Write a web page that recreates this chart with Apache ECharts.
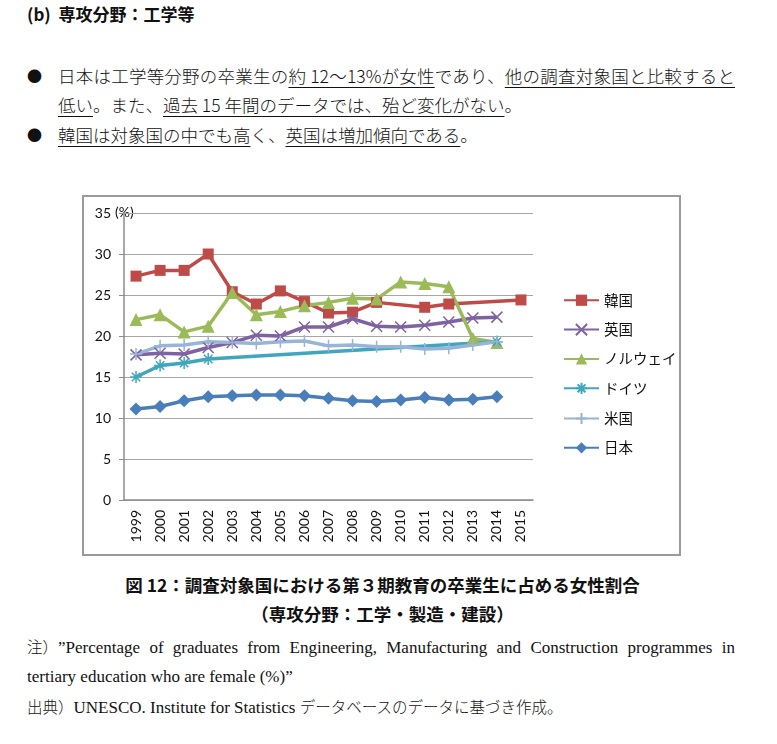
<!DOCTYPE html>
<html>
<head>
<meta charset="utf-8">
<script src="https://cdn.jsdelivr.net/npm/echarts@6/dist/echarts.min.js"></script>
<style>
  body { margin: 0; background: #fff; width: 777px; height: 744px; position: relative; overflow: hidden;
         font-family: "Noto Sans CJK JP", sans-serif; color: #111; }
  .abs { position: absolute; white-space: nowrap; }
  .head { left: 27px; top: 3px; font-size: 17px; font-weight: bold; line-height: 22px; }
  .bul { left: 27px; font-size: 15px; line-height: 20px; }
  .line { left: 58px; font-size: 17.5px; line-height: 24px; font-weight: 300; }
  .just { width: 677px; text-align: justify; text-align-last: justify; }
  u { text-decoration: underline; text-decoration-thickness: 1px; text-underline-offset: 4px; }
  .cap { left: 0; width: 765px; text-align: center; font-size: 17.5px; font-weight: bold; line-height: 24px; }
  .note { left: 27px; font-family: "Liberation Serif", "Noto Sans CJK JP", serif; font-size: 17px; line-height: 22px; }
  .note .jp { font-family: "Noto Sans CJK JP"; font-weight: 300; font-size: 15.5px; display: inline-block; }
  #chart { position: absolute; left: 82px; top: 195px; width: 600px; height: 362px; }
</style>
</head>
<body>
<div class="abs head">(b)&nbsp; 専攻分野：工学等</div>

<div class="abs bul" style="top:66px">●</div>
<div class="abs line just" style="top:64px">日本は工学等分野の卒業生の<u>約 12～13%が女性</u>であり、<u>他の調査対象国と比較すると</u></div>
<div class="abs line" style="top:93px"><u>低い</u>。また、<u>過去 15 年間のデータでは、殆ど変化がない</u>。</div>
<div class="abs bul" style="top:125px">●</div>
<div class="abs line" style="top:123px"><u>韓国は対象国の中でも高</u>く、<u>英国は増加傾向である</u>。</div>

<div id="chart"></div>

<div class="abs cap" style="top:573px">図 12：調査対象国における第３期教育の卒業生に占める女性割合</div>
<div class="abs cap" style="top:602px">（専攻分野：工学・製造・建設）</div>

<div class="abs note just" style="top:635px;width:708px"><span class="jp">注）</span>”Percentage of graduates from Engineering, Manufacturing and Construction programmes in</div>
<div class="abs note" style="top:666px">tertiary education who are female (%)”</div>
<div class="abs note" style="top:695px"><span class="jp">出典）</span>UNESCO. Institute for Statistics <span class="jp">データベースのデータに基づき作成。</span></div>

<script>
var chartDom = document.getElementById('chart');
var myChart = echarts.init(chartDom);
var option;

var years = ['1999', '2000', '2001', '2002', '2003', '2004', '2005', '2006', '2007',
             '2008', '2009', '2010', '2011', '2012', '2013', '2014', '2015'];
var yTicks = [0, 5, 10, 15, 20, 25, 30, 35];
var seriesNames = ['韓国', '英国', 'ノルウェイ', 'ドイツ', '米国', '日本'];

var korea   = [27.3, 28.0, 28.0, 30.0, 25.4, 23.9, 25.5, 24.2, 22.8, 22.9, 24.1, null, 23.5, 23.9, null, null, 24.4];
var uk      = [17.7, 17.9, 17.8, 18.6, 19.2, 20.1, 20.0, 21.1, 21.1, 22.1, 21.2, 21.1, 21.3, 21.7, 22.2, 22.3, null];
var norway  = [22.0, 22.6, 20.5, 21.2, 25.3, 22.6, 23.0, 23.7, 24.1, 24.6, 24.5, 26.6, 26.4, 26.0, 19.7, 19.2, null];
var germany = [15.0, 16.4, 16.7, 17.2, null, null, null, null, null, null, null, null, null, null, null, 19.3, null];
var us      = [17.8, 18.8, 18.9, 19.3, 19.2, 19.1, 19.3, 19.4, 18.8, 18.9, 18.7, 18.7, 18.4, 18.5, 18.9, 19.3, null];
var japan   = [11.1, 11.4, 12.1, 12.6, 12.7, 12.8, 12.8, 12.7, 12.4, 12.1, 12.0, 12.2, 12.5, 12.2, 12.3, 12.6, null];

// stroke-only marker shapes
var xMark = 'path://M0,0L10,10M10,0L0,10';
var starMark = 'path://M5,0L5,10M0,5L10,5M1.5,1.5L8.5,8.5M8.5,1.5L1.5,8.5';
var plusMark = 'path://M5,0L5,10M0,5L10,5';

function makeLine(name, data, color, symbol, size, stroked) {
  return {
    name: name,
    type: 'line',
    data: data,
    connectNulls: true,
    symbol: symbol,
    symbolSize: size,
    showAllSymbol: true,
    lineStyle: { color: color, width: 3.5 },
    itemStyle: stroked ? { color: 'none', borderColor: color, borderWidth: 1.5 } : { color: color },
    emphasis: { disabled: true }
  };
}

option = {
  animation: false,
  textStyle: { fontFamily: 'Lato, "Noto Sans CJK JP", sans-serif' },
  graphic: [
    {
      type: 'rect',
      shape: { x: 1, y: 1, width: 597, height: 359 },
      style: { fill: 'none', stroke: '#9a9a9a', lineWidth: 2 }
    },
    {
      type: 'text',
      left: 33,
      top: 10,
      style: { text: '(%)', fontSize: 14, fill: '#111', fontFamily: 'Lato, sans-serif' }
    }
  ],
  grid: { left: 42, top: 18, right: 149, bottom: 57 },
  legend: {
    orient: 'vertical',
    left: 476,
    top: 93,
    itemWidth: 35,
    itemHeight: 14,
    itemGap: 14,
    data: seriesNames,
    textStyle: { fontSize: 14.5, color: '#111', fontFamily: '"Noto Sans CJK JP", sans-serif' }
  },
  xAxis: {
    type: 'category',
    data: years,
    boundaryGap: true,
    axisLine: { lineStyle: { color: '#8c8c8c', width: 1.5 } },
    axisTick: { length: 5, lineStyle: { color: '#8c8c8c' } },
    axisLabel: { rotate: 90, margin: 10, fontSize: 14, color: '#111', interval: 0 }
  },
  yAxis: {
    type: 'value',
    min: 0,
    max: 35,
    interval: 5,
    axisLine: { show: true, lineStyle: { color: '#8c8c8c', width: 1.5 } },
    axisTick: { show: true, length: 5, lineStyle: { color: '#8c8c8c' } },
    axisLabel: {
      margin: 13, fontSize: 14, color: '#111',
      formatter: function (v) { return yTicks.indexOf(v) >= 0 ? String(v) : ''; }
    },
    splitLine: { lineStyle: { color: '#a6a6a6', width: 1.2 } }
  },
  series: [
    makeLine('韓国', korea, '#be4b48', 'rect', 11, false),
    makeLine('英国', uk, '#7e62a1', xMark, 11, true),
    makeLine('ノルウェイ', norway, '#9bbb59', 'triangle', 13, false),
    makeLine('ドイツ', germany, '#3fa6bd', starMark, 12, true),
    makeLine('米国', us, '#98b4d8', plusMark, 12, true),
    makeLine('日本', japan, '#4a7ebb', 'diamond', 13, false)
  ]
};

option && myChart.setOption(option);
</script>
</body>
</html>
